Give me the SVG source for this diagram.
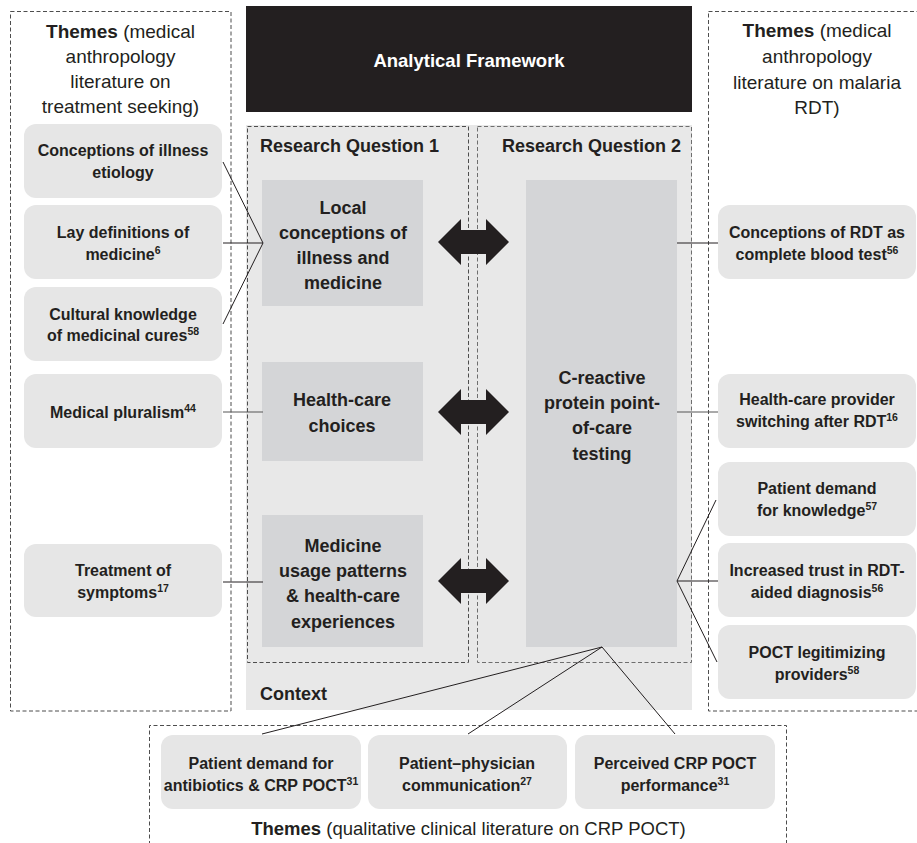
<svg xmlns="http://www.w3.org/2000/svg" width="917" height="843" viewBox="0 0 917 843">
<defs>
<style>
text{font-family:"Liberation Sans",Arial,sans-serif;fill:#231f20;text-anchor:middle}
.b{font-weight:bold}
.th{font-size:16px;font-weight:bold}
.in{font-size:18px;font-weight:bold}
.hd{font-size:19px}
.sup{font-size:10.5px}
.dash{fill:none;stroke:#4d4d4d;stroke-width:1;stroke-dasharray:4 2.5}
.tbox{fill:#e6e6e6}
.ibox{fill:#d4d5d7}
.con{fill:none;stroke:#231f20;stroke-width:1}
</style>
<path id="darr" d="M438,0 L461,-23 L461,-12 L486,-12 L486,-23 L509,0 L486,23 L486,12 L461,12 L461,23 Z" fill="#231f20"/>
</defs>
<rect width="917" height="843" fill="#ffffff"/>

<g id="left-themes">
<rect class="dash" x="10.5" y="11.5" width="220.5" height="699.5"/>
<text class="hd" x="120.5" y="38"><tspan class="b">Themes</tspan> (medical</text>
<text class="hd" x="120.5" y="63">anthropology</text>
<text class="hd" x="120.5" y="88">literature on</text>
<text class="hd" x="120.5" y="113">treatment seeking)</text>
</g>

<g id="right-themes">
<rect class="dash" x="708.5" y="11.5" width="220" height="699.5"/>
<text class="hd" x="817" y="37"><tspan class="b">Themes</tspan> (medical</text>
<text class="hd" x="817" y="63">anthropology</text>
<text class="hd" x="817" y="89">literature on malaria</text>
<text class="hd" x="817" y="114">RDT)</text>
</g>

<g id="bottom-themes">
<path class="dash" d="M149.5,845 V725.5 H786.5 V845"/>
<text x="468.5" y="835" style="font-size:18.5px"><tspan class="b">Themes</tspan> (qualitative clinical literature on CRP POCT)</text>
</g>

<g id="title">
<rect x="246" y="6" width="446" height="106" fill="#231f20"/>
<text class="b" x="469" y="66.5" style="font-size:18.5px;fill:#ffffff">Analytical Framework</text>
</g>

<g id="context">
<rect x="246" y="125" width="446" height="585" fill="#e8e8e8"/>
<text class="in" x="260" y="700" style="text-anchor:start">Context</text>
</g>

<g id="rq1">
<rect class="dash" x="247.5" y="126.5" width="221" height="536"/>
<text class="in" x="260" y="152" style="text-anchor:start">Research Question 1</text>
</g>

<g id="rq2">
<rect class="dash" x="477.5" y="126.5" width="214" height="536" style="stroke:#6e6e6e"/>
<text class="in" x="502" y="152" style="text-anchor:start">Research Question 2</text>
</g>

<g id="local-conceptions">
<rect class="ibox" x="262" y="180" width="161" height="126"/>
<text class="in" x="343" y="213.5">Local</text>
<text class="in" x="343" y="238.5">conceptions of</text>
<text class="in" x="343" y="263.5">illness and</text>
<text class="in" x="343" y="288.5">medicine</text>
</g>

<g id="health-care-choices">
<rect class="ibox" x="262" y="362" width="161" height="99"/>
<text class="in" x="342" y="405.5">Health-care</text>
<text class="in" x="342" y="431.5">choices</text>
</g>

<g id="medicine-usage">
<rect class="ibox" x="262" y="515" width="161" height="132"/>
<text class="in" x="343" y="551.5">Medicine</text>
<text class="in" x="343" y="576.5">usage patterns</text>
<text class="in" x="343" y="601.5">&amp; health-care</text>
<text class="in" x="343" y="627.5">experiences</text>
</g>

<g id="crp-poct">
<rect class="ibox" x="526" y="180" width="151" height="467"/>
<text class="in" x="602" y="383.5">C-reactive</text>
<text class="in" x="602" y="409">protein point-</text>
<text class="in" x="602" y="434">of-care</text>
<text class="in" x="602" y="459.5">testing</text>
</g>

<g id="connectors">
<use href="#darr" y="242"/>
<use href="#darr" y="412"/>
<use href="#darr" y="581"/>
<path class="con" d="M223,162 L263,243 M223,243 H263 M223,324 L263,243"/>
<path class="con" d="M223,412 H263" style="stroke:#555"/>
<path class="con" d="M223,582 H263"/>
<path class="con" d="M677,243 H718"/>
<path class="con" d="M677,412 H718" style="stroke:#555"/>
<path class="con" d="M716,500 L677,581 L718,581 M677,581 L717,662"/>
<path class="con" d="M262,734 L602,647 L468,734 M602,647 L675,734"/>
</g>

<g id="t-etiology">
<rect class="tbox" x="24" y="124" width="198" height="74" rx="12"/>
<text class="th" x="123" y="155.5">Conceptions of illness</text>
<text class="th" x="123" y="177.5">etiology</text>
</g>
<g id="t-lay">
<rect class="tbox" x="24" y="205" width="198" height="74" rx="12"/>
<text class="th" x="123" y="237.5">Lay definitions of</text>
<text class="th" x="123" y="259.5">medicine<tspan class="sup" dy="-6">6</tspan></text>
</g>
<g id="t-cultural">
<rect class="tbox" x="24" y="287" width="198" height="74" rx="12"/>
<text class="th" x="123" y="319.5">Cultural knowledge</text>
<text class="th" x="123" y="340.5">of medicinal cures<tspan class="sup" dy="-6">58</tspan></text>
</g>
<g id="t-pluralism">
<rect class="tbox" x="24" y="374" width="198" height="74" rx="12"/>
<text class="th" x="123" y="417.5">Medical pluralism<tspan class="sup" dy="-6">44</tspan></text>
</g>
<g id="t-symptoms">
<rect class="tbox" x="24" y="544" width="198" height="73" rx="12"/>
<text class="th" x="123" y="575.5">Treatment of</text>
<text class="th" x="123" y="597.5">symptoms<tspan class="sup" dy="-6">17</tspan></text>
</g>

<g id="t-rdt-blood">
<rect class="tbox" x="718" y="205" width="198" height="74" rx="12"/>
<text class="th" x="817" y="237.5">Conceptions of RDT as</text>
<text class="th" x="817" y="259.5">complete blood test<tspan class="sup" dy="-6">56</tspan></text>
</g>
<g id="t-switching">
<rect class="tbox" x="718" y="374" width="198" height="74" rx="12"/>
<text class="th" x="817" y="404.5">Health-care provider</text>
<text class="th" x="817" y="426.5">switching after RDT<tspan class="sup" dy="-6">16</tspan></text>
</g>
<g id="t-knowledge">
<rect class="tbox" x="718" y="462" width="198" height="74" rx="12"/>
<text class="th" x="817" y="493.5">Patient demand</text>
<text class="th" x="817" y="515.5">for knowledge<tspan class="sup" dy="-6">57</tspan></text>
</g>
<g id="t-trust">
<rect class="tbox" x="718" y="543" width="198" height="74" rx="12"/>
<text class="th" x="817" y="575.5">Increased trust in RDT-</text>
<text class="th" x="817" y="597.5">aided diagnosis<tspan class="sup" dy="-6">56</tspan></text>
</g>
<g id="t-legitimizing">
<rect class="tbox" x="718" y="625" width="198" height="74" rx="12"/>
<text class="th" x="817" y="657.5">POCT legitimizing</text>
<text class="th" x="817" y="679.5">providers<tspan class="sup" dy="-6">58</tspan></text>
</g>

<g id="t-antibiotics">
<rect class="tbox" x="161" y="735" width="200" height="74" rx="12"/>
<text class="th" x="261" y="768.5">Patient demand for</text>
<text class="th" x="261" y="790.5">antibiotics &amp; CRP POCT<tspan class="sup" dy="-6">31</tspan></text>
</g>
<g id="t-communication">
<rect class="tbox" x="368" y="735" width="199" height="74" rx="12"/>
<text class="th" x="467" y="768.5">Patient–physician</text>
<text class="th" x="467" y="790.5">communication<tspan class="sup" dy="-6">27</tspan></text>
</g>
<g id="t-performance">
<rect class="tbox" x="575" y="735" width="200" height="74" rx="12"/>
<text class="th" x="675" y="768.5">Perceived CRP POCT</text>
<text class="th" x="675" y="790.5">performance<tspan class="sup" dy="-6">31</tspan></text>
</g>
</svg>
